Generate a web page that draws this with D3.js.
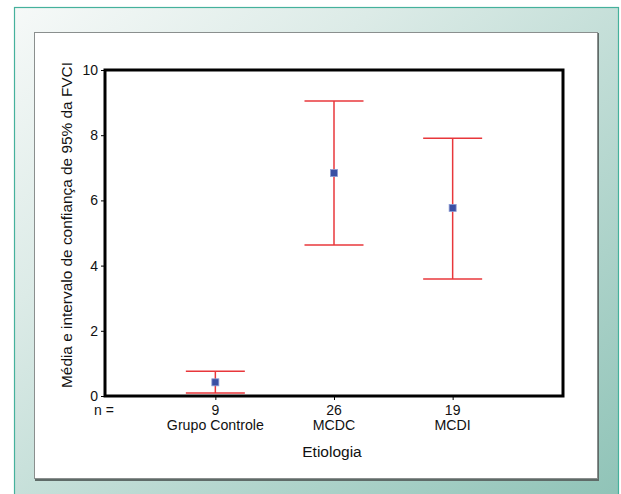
<!DOCTYPE html>
<html><head><meta charset="utf-8">
<script src="https://cdn.jsdelivr.net/npm/d3@7"></script>
<style>html,body{margin:0;padding:0;background:#fff;}svg{display:block;}</style>
</head><body>
<script>
const categories = ["Grupo Controle", "MCDC", "MCDI"];
const nValues = ["9", "26", "19"];
const means = [0.42, 6.84, 5.77];
const lowerCI = [0.09, 4.63, 3.59];
const upperCI = [0.76, 9.05, 7.91];
const yTicks = [0, 2, 4, 6, 8, 10];

(function(){
const W = 621, H = 494;
const svg = d3.select("body").append("svg").attr("width", W).attr("height", H);
const defs = svg.append("defs");
const grad = defs.append("linearGradient").attr("id","bg")
  .attr("x1","0%").attr("y1","0%").attr("x2","100%").attr("y2","100%");
grad.append("stop").attr("offset","0%").attr("stop-color","#f6f9f8");
grad.append("stop").attr("offset","30%").attr("stop-color","#dcebe7");
grad.append("stop").attr("offset","100%").attr("stop-color","#8fc3b7");

svg.append("rect").attr("width",W).attr("height",H).attr("fill","#ffffff");
svg.append("rect").attr("x",14.5).attr("y",7.5).attr("width",604).attr("height",495)
  .attr("fill","url(#bg)").attr("stroke","#45b19c").attr("stroke-width",1.2);

// white panel with shadow
svg.append("rect").attr("x",35).attr("y",33).attr("width",564).attr("height",448).attr("fill","#5f6b68");
svg.append("rect").attr("x",34.5).attr("y",32.5).attr("width",563).attr("height",446)
  .attr("fill","#ffffff").attr("stroke","#8a8f8e").attr("stroke-width",1);

const pL = 105, pR = 563, pT = 70, pB = 396;
const x = d3.scalePoint().domain(categories).range([pL, pR]).padding(0.93);
const y = d3.scaleLinear().domain([0, 10]).range([pB, pT]);

const font = "Arial, 'Liberation Sans', sans-serif";

// y axis
const yAxis = svg.append("g").attr("transform", `translate(${pL},0)`)
  .call(d3.axisLeft(y).tickValues(yTicks).tickSize(4).tickPadding(3).tickFormat(d3.format("d")));
yAxis.select(".domain").remove();
yAxis.selectAll("line").attr("stroke","#000").attr("stroke-width",1);
yAxis.selectAll("text").attr("font-family",font).attr("font-size",14).attr("fill","#111");

// x axis ticks
const xAxis = svg.append("g").attr("transform", `translate(0,${pB})`)
  .call(d3.axisBottom(x).tickSize(4).tickFormat(""));
xAxis.select(".domain").remove();
xAxis.selectAll("line").attr("stroke","#000").attr("stroke-width",1);

// plot frame
svg.append("rect").attr("x",pL).attr("y",pT).attr("width",pR-pL).attr("height",pB-pT)
  .attr("fill","none").attr("stroke","#000").attr("stroke-width",3);

// n labels and category labels
svg.append("text").attr("x",94).attr("y",415).attr("text-anchor","start")
  .attr("font-family",font).attr("font-size",14).attr("fill","#111").text("n =");
svg.selectAll("text.n").data(categories).join("text").attr("class","n")
  .attr("x",d=>x(d)).attr("y",415).attr("text-anchor","middle")
  .attr("font-family",font).attr("font-size",14).attr("fill","#111")
  .text((d,i)=>nValues[i]);
svg.selectAll("text.cat").data(categories).join("text").attr("class","cat")
  .attr("x",d=>x(d)).attr("y",430).attr("text-anchor","middle")
  .attr("font-family",font).attr("font-size",14.2).attr("fill","#111").text(d=>d);

svg.append("text").attr("x",332).attr("y",457).attr("text-anchor","middle")
  .attr("font-family",font).attr("font-size",15.5).attr("fill","#111").text("Etiologia");

svg.append("text").attr("transform",`translate(72,225) rotate(-90)`)
  .attr("text-anchor","middle").attr("font-family",font).attr("font-size",15.4).attr("fill","#111")
  .text("Média e intervalo de confiança de 95% da FVCI");

// error bars
const red = "#e8373b";
const capHalf = 29.5;
const g = svg.append("g");
categories.forEach((c,i)=>{
  const cx = x(c);
  g.append("line").attr("x1",cx).attr("x2",cx).attr("y1",y(lowerCI[i])).attr("y2",y(upperCI[i]))
    .attr("stroke",red).attr("stroke-width",1.5);
  g.append("line").attr("x1",cx-capHalf).attr("x2",cx+capHalf).attr("y1",y(upperCI[i])).attr("y2",y(upperCI[i]))
    .attr("stroke",red).attr("stroke-width",1.5);
  g.append("line").attr("x1",cx-capHalf).attr("x2",cx+capHalf).attr("y1",y(lowerCI[i])).attr("y2",y(lowerCI[i]))
    .attr("stroke",red).attr("stroke-width",1.5);
  g.append("rect").attr("x",cx-3.5).attr("y",y(means[i])-3.5).attr("width",7).attr("height",7)
    .attr("fill","#3a4fa3").attr("stroke","#8c9bd3").attr("stroke-width",0.8);
});
})();
</script>
</body></html>
